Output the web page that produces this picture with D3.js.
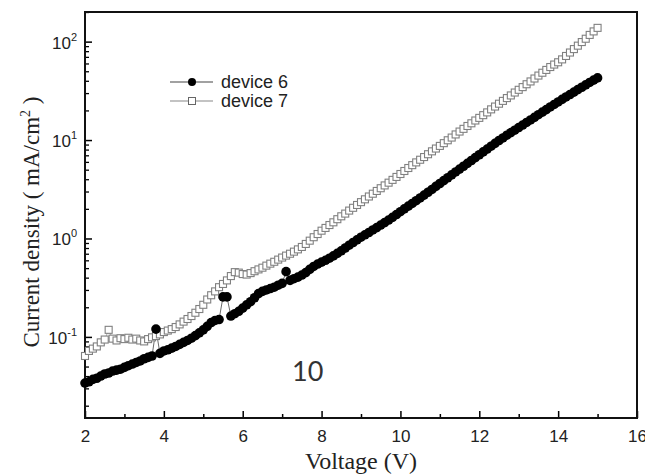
<!DOCTYPE html>
<html>
<head>
<meta charset="utf-8">
<script src="https://cdn.jsdelivr.net/npm/d3@7"></script>
<style>
  body { margin: 0; background: #fff; }
  svg { display: block; }
</style>
</head>
<body>
<script>
// measured sweep, 0.1 V steps
const voltage = [
  2.0, 2.1, 2.2, 2.3, 2.4, 2.5, 2.6, 2.7, 2.8, 2.9,
  3.0, 3.1, 3.2, 3.3, 3.4, 3.5, 3.6, 3.7, 3.8, 3.9,
  4.0, 4.1, 4.2, 4.3, 4.4, 4.5, 4.6, 4.7, 4.8, 4.9,
  5.0, 5.1, 5.2, 5.3, 5.4, 5.5, 5.6, 5.7, 5.8, 5.9,
  6.0, 6.1, 6.2, 6.3, 6.4, 6.5, 6.6, 6.7, 6.8, 6.9,
  7.0, 7.1, 7.2, 7.3, 7.4, 7.5, 7.6, 7.7, 7.8, 7.9,
  8.0, 8.1, 8.2, 8.3, 8.4, 8.5, 8.6, 8.7, 8.8, 8.9,
  9.0, 9.1, 9.2, 9.3, 9.4, 9.5, 9.6, 9.7, 9.8, 9.9,
  10.0, 10.1, 10.2, 10.3, 10.4, 10.5, 10.6, 10.7, 10.8, 10.9,
  11.0, 11.1, 11.2, 11.3, 11.4, 11.5, 11.6, 11.7, 11.8, 11.9,
  12.0, 12.1, 12.2, 12.3, 12.4, 12.5, 12.6, 12.7, 12.8, 12.9,
  13.0, 13.1, 13.2, 13.3, 13.4, 13.5, 13.6, 13.7, 13.8, 13.9,
  14.0, 14.1, 14.2, 14.3, 14.4, 14.5, 14.6, 14.7, 14.8, 14.9,
  15.0
];

// current density, mA/cm^2
const device6 = [
  0.034, 0.035, 0.037, 0.038, 0.040, 0.042, 0.043, 0.045, 0.046, 0.047,
  0.049, 0.051, 0.053, 0.055, 0.057, 0.060, 0.062, 0.064, 0.120, 0.068,
  0.072, 0.074, 0.077, 0.080, 0.084, 0.088, 0.092, 0.097, 0.103, 0.110,
  0.118, 0.128, 0.140, 0.147, 0.150, 0.255, 0.255, 0.163, 0.172, 0.182,
  0.196, 0.212, 0.228, 0.250, 0.275, 0.290, 0.300, 0.310, 0.320, 0.335,
  0.350, 0.460, 0.375, 0.390, 0.405, 0.425, 0.450, 0.485, 0.520, 0.550,
  0.575, 0.600, 0.630, 0.665, 0.705, 0.750, 0.800, 0.855, 0.910, 0.970,
  1.03, 1.09, 1.15, 1.22, 1.29, 1.37, 1.45, 1.54, 1.64, 1.75,
  1.87, 2.00, 2.13, 2.27, 2.42, 2.58, 2.76, 2.95, 3.15, 3.38,
  3.62, 3.87, 4.14, 4.43, 4.74, 5.07, 5.42, 5.80, 6.20, 6.63,
  7.09, 7.58, 8.10, 8.66, 9.26, 9.90, 10.5, 11.2, 11.9, 12.6,
  13.4, 14.2, 15.1, 16.0, 17.0, 18.1, 19.2, 20.4, 21.7, 23.0,
  24.4, 25.9, 27.4, 29.0, 30.7, 32.5, 34.4, 36.4, 38.5, 40.6,
  42.8
];

const device7 = [
  0.064, 0.072, 0.076, 0.080, 0.088, 0.094, 0.118, 0.096, 0.092, 0.097,
  0.095, 0.098, 0.094, 0.096, 0.092, 0.090, 0.095, 0.099, 0.102, 0.106,
  0.112, 0.116, 0.120, 0.126, 0.134, 0.143, 0.152, 0.163, 0.176, 0.192,
  0.212, 0.240, 0.265, 0.290, 0.320, 0.345, 0.375, 0.415, 0.455, 0.450,
  0.435, 0.430, 0.445, 0.465, 0.485, 0.505, 0.530, 0.555, 0.580, 0.610,
  0.640, 0.670, 0.700, 0.735, 0.775, 0.820, 0.880, 0.950, 1.03, 1.11,
  1.20, 1.28, 1.37, 1.46, 1.57, 1.68, 1.79, 1.92, 2.05, 2.19,
  2.34, 2.50, 2.67, 2.85, 3.04, 3.24, 3.46, 3.69, 3.94, 4.22,
  4.52, 4.85, 5.20, 5.56, 5.93, 6.31, 6.72, 7.18, 7.68, 8.20,
  8.72, 9.30, 9.95, 10.6, 11.4, 12.2, 13.0, 13.9, 14.8, 15.8,
  16.8, 17.9, 19.1, 20.5, 21.9, 23.4, 25.0, 26.7, 28.4, 30.4,
  32.4, 34.5, 36.9, 39.4, 42.2, 45.2, 48.3, 51.6, 55.2, 58.5,
  61.7, 66.0, 71.5, 77.5, 84.0, 91.0, 99.0, 107, 117, 127,
  138
];

const seriesNames = ['device 6', 'device 7'];
const xTicks = [2, 4, 6, 8, 10, 12, 14, 16];
const xMinorTicks = [3, 5, 7, 9, 11, 13, 15];
const yExponents = [-1, 0, 1, 2];
const xDomain = [2, 16];
const yDomain = [0.015, 200];

const width = 645,
  height = 475,
  plot = { left: 85, right: 637, top: 12, bottom: 418 };

const sans = '"Liberation Sans", Arial, sans-serif',
  serif = '"Liberation Serif", "Times New Roman", serif';

const svg = d3.select('body')
  .append('svg')
  .attr('width', width)
  .attr('height', height);

const x = d3.scaleLinear().domain(xDomain).range([plot.left, plot.right]);
const y = d3.scaleLog().domain(yDomain).range([plot.bottom, plot.top]);

const rows = voltage.map((v, i) => ({ v, j6: device6[i], j7: device7[i] }));

// minor ticks at 2..9 of every decade inside the domain
const yMinorTicks = [];
for (let e = -2; e <= 2; e++) {
  for (let k = 2; k <= 9; k++) {
    const t = k * Math.pow(10, e);
    if (t >= yDomain[0] && t <= yDomain[1]) yMinorTicks.push(t);
  }
}
const yMajorTicks = yExponents.map(e => Math.pow(10, e));

// ticks, inward
svg.append('g')
  .attr('transform', `translate(0,${plot.bottom})`)
  .call(d3.axisBottom(x).tickValues(xMinorTicks).tickSize(-4).tickFormat(''))
  .call(g => g.select('.domain').remove())
  .selectAll('line').attr('stroke', '#000').attr('stroke-width', 1.5);

const xAxis = svg.append('g')
  .attr('transform', `translate(0,${plot.bottom})`)
  .call(d3.axisBottom(x).tickValues(xTicks).tickSize(-7).tickPadding(12).tickFormat(d3.format('d')));
xAxis.select('.domain').remove();
xAxis.selectAll('line').attr('stroke', '#000').attr('stroke-width', 1.5);
xAxis.selectAll('text')
  .attr('fill', '#222')
  .style('font-family', sans)
  .style('font-size', '17px');

svg.append('g')
  .attr('transform', `translate(${plot.left},0)`)
  .call(d3.axisLeft(y).tickValues(yMinorTicks).tickSize(-4).tickFormat(''))
  .call(g => g.select('.domain').remove())
  .selectAll('line').attr('stroke', '#000').attr('stroke-width', 1.3);

const yAxis = svg.append('g')
  .attr('transform', `translate(${plot.left},0)`)
  .call(d3.axisLeft(y).tickValues(yMajorTicks).tickSize(-7).tickFormat(''));
yAxis.select('.domain').remove();
yAxis.selectAll('line').attr('stroke', '#000').attr('stroke-width', 1.5);

// 10^n labels
const yLabel = svg.append('g')
  .selectAll('text')
  .data(yExponents)
  .enter().append('text')
  .attr('x', plot.left - 8)
  .attr('y', d => y(Math.pow(10, d)) + 7)
  .attr('text-anchor', 'end')
  .attr('fill', '#222')
  .style('font-family', sans)
  .style('font-size', '17px');
yLabel.append('tspan').text('10');
yLabel.append('tspan')
  .attr('dy', -8)
  .style('font-size', '11px')
  .text(d => d);

// frame
svg.append('rect')
  .attr('x', plot.left)
  .attr('y', plot.top)
  .attr('width', plot.right - plot.left)
  .attr('height', plot.bottom - plot.top)
  .attr('fill', 'none')
  .attr('stroke', '#111')
  .attr('stroke-width', 2);

// device 6: filled circles joined by a thin line
svg.append('path')
  .datum(rows)
  .attr('fill', 'none')
  .attr('stroke', '#444')
  .attr('stroke-width', 0.8)
  .attr('d', d3.line().x(d => x(d.v)).y(d => y(d.j6)));

// device 7: open squares joined by a thin line
svg.append('path')
  .datum(rows)
  .attr('fill', 'none')
  .attr('stroke', '#999')
  .attr('stroke-width', 0.8)
  .attr('d', d3.line().x(d => x(d.v)).y(d => y(d.j7)));

const sq = 7;
svg.append('g')
  .selectAll('rect')
  .data(rows)
  .enter().append('rect')
  .attr('x', d => x(d.v) - sq / 2)
  .attr('y', d => y(d.j7) - sq / 2)
  .attr('width', sq)
  .attr('height', sq)
  .attr('fill', '#fff')
  .attr('stroke', '#808080')
  .attr('stroke-width', 1.1);

svg.append('g')
  .selectAll('circle')
  .data(rows)
  .enter().append('circle')
  .attr('cx', d => x(d.v))
  .attr('cy', d => y(d.j6))
  .attr('r', 4.8)
  .attr('fill', '#000');

// legend
const legend = svg.append('g')
  .selectAll('g')
  .data(seriesNames)
  .enter().append('g')
  .attr('transform', (d, i) => `translate(170,${82 + i * 19})`);

legend.append('line')
  .attr('x1', 0)
  .attr('x2', 43)
  .attr('stroke', (d, i) => i === 0 ? '#444' : '#888')
  .attr('stroke-width', 1.2);

legend.filter((d, i) => i === 0).append('circle')
  .attr('cx', 22)
  .attr('r', 4)
  .attr('fill', '#000');

legend.filter((d, i) => i === 1).append('rect')
  .attr('x', 22 - 3.5)
  .attr('y', -3.5)
  .attr('width', 7)
  .attr('height', 7)
  .attr('fill', '#fff')
  .attr('stroke', '#666')
  .attr('stroke-width', 1);

legend.append('text')
  .attr('x', 51)
  .attr('y', 6)
  .attr('fill', '#222')
  .style('font-family', sans)
  .style('font-size', '18px')
  .text(d => d);

// axis titles
svg.append('text')
  .attr('x', (plot.left + plot.right) / 2)
  .attr('y', 469)
  .attr('text-anchor', 'middle')
  .attr('fill', '#222')
  .style('font-family', serif)
  .style('font-size', '24px')
  .text('Voltage (V)');

const yTitle = svg.append('text')
  .attr('transform', 'translate(39,222) rotate(-90)')
  .attr('text-anchor', 'middle')
  .attr('fill', '#222')
  .style('font-family', serif)
  .style('font-size', '23px');
yTitle.append('tspan').text('Current density ( mA/cm');
yTitle.append('tspan').attr('dy', -9).style('font-size', '14px').text('2');
yTitle.append('tspan').attr('dy', 9).text(' )');

// panel number
svg.append('text')
  .attr('x', 292)
  .attr('y', 381)
  .attr('fill', '#333')
  .style('font-family', 'Lato, "Open Sans", sans-serif')
  .style('font-size', '27px')
  .text('10');
</script>
</body>
</html>
